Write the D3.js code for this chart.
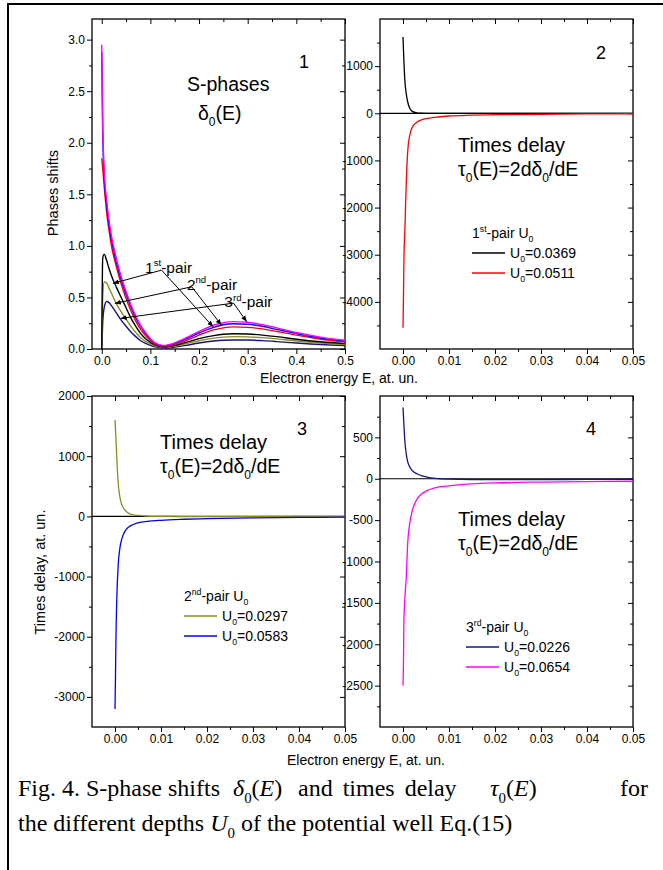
<!DOCTYPE html>
<html>
<head>
<meta charset="utf-8">
<script src="https://cdn.jsdelivr.net/npm/d3@7"></script>
<style>
    body { margin: 0; background: #fff; }
    svg text { font-family: "Liberation Sans", Arial, sans-serif; fill: #000; }
    .caption text { font-family: "Liberation Serif", "Times New Roman", serif; }
</style>
</head>
<body>
<svg id="fig" width="663" height="870"></svg>
<script>
/** ********************************
 *           Data
 ********************************** */

// Panel 1: S-phase shifts vs electron energy
const phaseE = [0, 0.002, 0.005, 0.01, 0.015, 0.02, 0.03, 0.04, 0.05, 0.06, 0.07, 0.08, 0.09, 0.1,
    0.11, 0.12, 0.13, 0.14, 0.15, 0.17, 0.2, 0.23, 0.25, 0.27, 0.3, 0.33, 0.36, 0.4, 0.45, 0.5];

const phaseNavy    = [0.0, 0.25, 0.40, 0.46, 0.45, 0.42, 0.35, 0.28, 0.22, 0.165, 0.12, 0.08, 0.055, 0.035,
    0.02, 0.012, 0.01, 0.012, 0.018, 0.033, 0.058, 0.077, 0.085, 0.088, 0.087, 0.081, 0.072, 0.058, 0.043, 0.033];
const phaseOlive   = [0.0, 0.50, 0.65, 0.64, 0.59, 0.54, 0.44, 0.36, 0.29, 0.22, 0.16, 0.11, 0.075, 0.05,
    0.03, 0.02, 0.015, 0.02, 0.028, 0.048, 0.08, 0.105, 0.115, 0.12, 0.118, 0.11, 0.098, 0.078, 0.058, 0.043];
const phaseBlack   = [0.0, 0.88, 0.92, 0.86, 0.78, 0.71, 0.60, 0.50, 0.40, 0.30, 0.22, 0.15, 0.10, 0.065,
    0.04, 0.025, 0.02, 0.025, 0.035, 0.06, 0.10, 0.13, 0.143, 0.148, 0.145, 0.135, 0.12, 0.095, 0.07, 0.052];
const phaseRed     = [1.85, 1.75, 1.58, 1.33, 1.15, 1.00, 0.80, 0.63, 0.49, 0.37, 0.27, 0.19, 0.13, 0.08,
    0.045, 0.03, 0.025, 0.03, 0.045, 0.075, 0.135, 0.185, 0.205, 0.215, 0.21, 0.195, 0.17, 0.135, 0.095, 0.068];
const phaseBlue    = [2.88, 2.10, 1.68, 1.40, 1.20, 1.06, 0.84, 0.67, 0.53, 0.41, 0.30, 0.22, 0.15, 0.095,
    0.055, 0.035, 0.03, 0.04, 0.055, 0.09, 0.155, 0.21, 0.235, 0.245, 0.24, 0.22, 0.19, 0.15, 0.105, 0.078];
const phaseMagenta = [2.95, 2.20, 1.75, 1.45, 1.25, 1.10, 0.88, 0.70, 0.56, 0.43, 0.32, 0.23, 0.16, 0.10,
    0.06, 0.04, 0.035, 0.045, 0.06, 0.10, 0.17, 0.23, 0.255, 0.265, 0.26, 0.235, 0.205, 0.16, 0.115, 0.085];

// Panels 2-4: times delay vs electron energy
const delayE = [0, 0.0001, 0.0002, 0.0004, 0.0007, 0.001, 0.0015, 0.002, 0.003, 0.004, 0.005,
    0.007, 0.01, 0.015, 0.02, 0.03, 0.04, 0.05];

const delayBlack   = [1620, 1350, 1100, 700, 420, 250, 100, 40, 10, 3, 0, -2, -3, -3, -3, -2, -2, -1];
const delayRed     = [-4550, -3900, -3100, -2500, -1500, -850, -450, -300, -190, -140, -115, -85, -58, -40, -30, -20, -14, -10];
const delayOlive   = [1600, 1450, 1300, 950, 550, 350, 190, 120, 50, 25, 15, 5, 0, -3, -3, -3, -1, 0];
const delayBlue    = [-3200, -2700, -2050, -1350, -800, -560, -370, -270, -175, -135, -110, -85, -65, -48, -38, -25, -18, -13];
const delayNavy    = [860, 760, 650, 460, 300, 210, 140, 100, 60, 38, 24, 5, -5, -10, -10, -10, -8, -6];
const delayMagenta = [-2500, -2230, -1700, -1450, -1200, -800, -530, -390, -250, -185, -150, -110, -85, -62, -50, -40, -34, -30];

// Tick values
const phaseXTicks = [0, 0.1, 0.2, 0.3, 0.4, 0.5];
const phaseXMinor = [0.05, 0.15, 0.25, 0.35, 0.45];
const phaseYTicks = [0, 0.5, 1, 1.5, 2, 2.5, 3];
const phaseYMinor = [0.25, 0.75, 1.25, 1.75, 2.25, 2.75];
const delayXTicks = [0, 0.01, 0.02, 0.03, 0.04, 0.05];
const delayXMinor = [0.005, 0.015, 0.025, 0.035, 0.045];
const p2YTicks = [-4000, -3000, -2000, -1000, 0, 1000];
const p2YMinor = [-4500, -3500, -2500, -1500, -500, 500, 1500];
const p3YTicks = [-3000, -2000, -1000, 0, 1000, 2000];
const p3YMinor = [-2500, -1500, -500, 500, 1500];
const p4YTicks = [-2500, -2000, -1500, -1000, -500, 0, 500];
const p4YMinor = [-2750, -2250, -1750, -1250, -750, -250, 250, 750];

// Legend labels
const pairNames = [["1", "st"], ["2", "nd"], ["3", "rd"]];
const depths = [["0.0369", "0.0511"], ["0.0297", "0.0583"], ["0.0226", "0.0654"]];

const colors = {
    black: "#000000", red: "#ff0000", olive: "#8c8c1e",
    blue: "#0000ff", navy: "#14148c", magenta: "#ff00ff"
};

/** ********************************
 *           Layout
 ********************************** */

const svg = d3.select("#fig");

const panels = [
    { box: [92, 19, 345, 349], xDom: [-0.02, 0.5], yDom: [0, 3.2],
      xT: phaseXTicks, xM: phaseXMinor, yT: phaseYTicks, yM: phaseYMinor,
      xf: d3.format(".1f"), yf: d3.format(".1f") },
    { box: [380, 19, 633, 349], xDom: [-0.005, 0.05], yDom: [-5000, 2000],
      xT: delayXTicks, xM: delayXMinor, yT: p2YTicks, yM: p2YMinor,
      xf: d3.format(".2f"), yf: v => String(v), zero: true },
    { box: [92, 396, 345, 727], xDom: [-0.005, 0.05], yDom: [-3500, 2000],
      xT: delayXTicks, xM: delayXMinor, yT: p3YTicks, yM: p3YMinor,
      xf: d3.format(".2f"), yf: v => String(v), zero: true },
    { box: [380, 396, 633, 727], xDom: [-0.005, 0.05], yDom: [-3000, 1000],
      xT: delayXTicks, xM: delayXMinor, yT: p4YTicks, yM: p4YMinor,
      xf: d3.format(".2f"), yf: v => String(v), zero: true }
];

// Text with sub/superscripts: parts = [[string, kind]], kind in n|sub|sup|it
function rich(sel, x, y, parts, size) {
    const t = sel.append("text").attr("x", x).attr("y", y).attr("font-size", size);
    let shift = 0;
    parts.forEach(([s, k]) => {
        const target = k === "sub" ? size * 0.3 : k === "sup" ? -size * 0.42 : 0;
        const sp = t.append("tspan").attr("dy", target - shift).text(s);
        if (k === "sub" || k === "sup") sp.attr("font-size", size * 0.62);
        if (k === "it") sp.attr("font-style", "italic");
        shift = target;
    });
    return t;
}

// Build scales & axes for each panel
panels.forEach(p => {
    const [l, t, r, b] = p.box;
    p.x = d3.scaleLinear().domain(p.xDom).range([l, r]);
    p.y = d3.scaleLinear().domain(p.yDom).range([b, t]);
    const g = svg.append("g");
    p.g = g;

    const axes = [
        [d3.axisBottom(p.x).tickValues(p.xT).tickSize(5).tickPadding(2).tickFormat(p.xf), `translate(0,${b})`],
        [d3.axisBottom(p.x).tickValues(p.xM).tickSize(3).tickFormat(""), `translate(0,${b})`],
        [d3.axisTop(p.x).tickValues(p.xT).tickSize(-5).tickFormat(""), `translate(0,${t})`],
        [d3.axisTop(p.x).tickValues(p.xM).tickSize(-3).tickFormat(""), `translate(0,${t})`],
        [d3.axisLeft(p.y).tickValues(p.yT).tickSize(5).tickPadding(2).tickFormat(p.yf), `translate(${l},0)`],
        [d3.axisLeft(p.y).tickValues(p.yM).tickSize(3).tickFormat(""), `translate(${l},0)`],
        [d3.axisRight(p.y).tickValues(p.yT).tickSize(-5).tickFormat(""), `translate(${r},0)`],
        [d3.axisRight(p.y).tickValues(p.yM).tickSize(-3).tickFormat(""), `translate(${r},0)`]
    ];
    axes.forEach(([ax, tr]) => {
        const a = g.append("g").attr("transform", tr).call(ax);
        a.select(".domain").remove();
        a.selectAll("line").attr("stroke", "#000").attr("stroke-width", 1);
        a.selectAll("text").attr("font-size", 12).attr("font-family", "Liberation Sans, Arial, sans-serif").attr("fill", "#000");
    });

    g.append("rect")
        .attr("x", l).attr("y", t).attr("width", r - l).attr("height", b - t)
        .attr("fill", "none").attr("stroke", "#000").attr("stroke-width", 1.3);

    p.plot = g.append("g");
    if (p.zero) {
        p.plot.append("line")
            .attr("x1", l).attr("x2", r).attr("y1", p.y(0)).attr("y2", p.y(0))
            .attr("stroke", "#000").attr("stroke-width", 1.2);
    }
});

function drawCurve(p, xs, ys, color, width) {
    const line = d3.line()
        .x((d, i) => p.x(xs[i]))
        .y(d => p.y(d))
        .curve(d3.curveMonotoneX);
    p.plot.append("path")
        .datum(ys)
        .attr("d", line)
        .attr("fill", "none")
        .attr("stroke", color)
        .attr("stroke-width", width || 1.3);
}

// Panel 1 curves
const P1 = panels[0];
[[phaseNavy, colors.navy], [phaseOlive, colors.olive], [phaseBlack, colors.black],
 [phaseRed, colors.red], [phaseBlue, colors.blue], [phaseMagenta, colors.magenta]]
    .forEach(([ys, c]) => drawCurve(P1, phaseE, ys, c, 1.4));

// Panels 2-4 curves
drawCurve(panels[1], delayE, delayBlack, colors.black);
drawCurve(panels[1], delayE, delayRed, colors.red);
drawCurve(panels[2], delayE, delayOlive, colors.olive);
drawCurve(panels[2], delayE, delayBlue, colors.blue);
drawCurve(panels[3], delayE, delayNavy, colors.navy);
drawCurve(panels[3], delayE, delayMagenta, colors.magenta);

/** ********************************
 *   Panel 1 annotations (pair arrows)
 ********************************** */

svg.append("defs").append("marker")
    .attr("id", "arr").attr("viewBox", "0 0 10 10")
    .attr("refX", 10).attr("refY", 5)
    .attr("markerWidth", 6).attr("markerHeight", 6)
    .attr("orient", "auto-start-reverse")
    .append("path").attr("d", "M0,1 L10,5 L0,9 Z").attr("fill", "#000");

// label anchor, arrow start, two arrow targets (data units of panel 1)
const pairLabelE   = [0.089, 0.175, 0.252];
const pairLabelD   = [0.739, 0.575, 0.405];
const pairFromE    = [0.123, 0.185, 0.271];
const pairFromD    = [0.765, 0.603, 0.445];
const pairLeftE    = [0.023, 0.027, 0.039];
const pairLeftD    = [0.636, 0.442, 0.297];
const pairRightE   = [0.229, 0.246, 0.298];
const pairRightD   = [0.216, 0.232, 0.264];

pairNames.forEach(([n, sup], i) => {
    const g = P1.g;
    [[pairLeftE[i], pairLeftD[i]], [pairRightE[i], pairRightD[i]]].forEach(([e, d]) => {
        g.append("line")
            .attr("x1", P1.x(pairFromE[i])).attr("y1", P1.y(pairFromD[i]))
            .attr("x2", P1.x(e)).attr("y2", P1.y(d))
            .attr("stroke", "#000").attr("stroke-width", 1)
            .attr("marker-end", "url(#arr)");
    });
    rich(g, P1.x(pairLabelE[i]), P1.y(pairLabelD[i]), [[n, "n"], [sup, "sup"], ["-pair", "n"]], 15.5);
});

/** ********************************
 *   Panel texts and legends
 ********************************** */

const P2 = panels[1], P3 = panels[2], P4 = panels[3];

rich(svg, 299, 68, [["1", "n"]], 18);
rich(svg, 187, 91, [["S-phases", "n"]], 19.5);
rich(svg, 198, 120, [["δ", "n"], ["0", "sub"], ["(E)", "n"]], 19.5);

const tauParts = [["τ", "n"], ["0", "sub"], ["(E)=2dδ", "n"], ["0", "sub"], ["/dE", "n"]];
const textSpots = [
    [P2, 596, 59, 458, 152, 176],
    [P3, 297, 435, 160, 449, 473],
    [P4, 586, 435, 458, 526, 550]
];
textSpots.forEach(([p, nx, ny, tx, ty1, ty2], i) => {
    rich(svg, nx, ny, [[String(i + 2), "n"]], 18);
    rich(svg, tx, ty1, [["Times delay", "n"]], 20);
    rich(svg, tx, ty2, tauParts, 19.5);
});

const legendSpots = [
    [472, 238, [colors.black, colors.red]],
    [184, 601, [colors.olive, colors.blue]],
    [466, 632, [colors.navy, colors.magenta]]
];
legendSpots.forEach(([lx, ly, cols], i) => {
    rich(svg, lx, ly, [[pairNames[i][0], "n"], [pairNames[i][1], "sup"], ["-pair U", "n"], ["0", "sub"]], 14);
    depths[i].forEach((v, j) => {
        const yy = ly + 15 + j * 20;
        svg.append("line")
            .attr("x1", lx).attr("x2", lx + 33).attr("y1", yy).attr("y2", yy)
            .attr("stroke", cols[j]).attr("stroke-width", 1.3);
        rich(svg, lx + 38, yy + 5, [["U", "n"], ["0", "sub"], ["=" + v, "n"]], 14);
    });
});

// Axis titles
svg.append("text").attr("x", 260).attr("y", 383).attr("font-size", 14).text("Electron energy E, at. un.");
svg.append("text").attr("x", 287).attr("y", 765).attr("font-size", 14).text("Electron energy E, at. un.");
svg.append("text").attr("transform", "translate(58,193) rotate(-90)")
    .attr("text-anchor", "middle").attr("font-size", 14.5).text("Phases shifts");
svg.append("text").attr("transform", "translate(45,572) rotate(-90)")
    .attr("text-anchor", "middle").attr("font-size", 14.5).text("Times delay, at. un.");

// Frame lines (top and left)
svg.append("path").attr("d", "M8,870 L8,4 L663,4")
    .attr("fill", "none").attr("stroke", "#000").attr("stroke-width", 2);

/** ********************************
 *   Caption
 ********************************** */

const cap = svg.append("g").attr("class", "caption");
const capSize = 24;
rich(cap, 18, 796, [["Fig. 4. S-phase shifts", "n"]], capSize);
rich(cap, 233, 796, [["δ", "it"], ["0", "sub"], ["(", "n"], ["E", "it"], [")", "n"]], capSize);
rich(cap, 298, 796, [["and times delay", "n"]], capSize).attr("word-spacing", 4);
rich(cap, 490, 796, [["τ", "it"], ["0", "sub"], ["(", "n"], ["E", "it"], [")", "n"]], capSize);
rich(cap, 620, 796, [["for", "n"]], capSize);
rich(cap, 18, 831, [["the different depths ", "n"], ["U", "it"], ["0", "sub"], [" of the potential well Eq.(15)", "n"]], capSize);
</script>
</body>
</html>
